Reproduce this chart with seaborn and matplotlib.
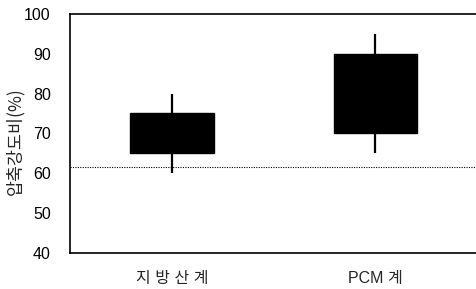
import pandas as pd
import matplotlib
matplotlib.use("Agg")
import matplotlib.pyplot as plt
import seaborn as sns

# values: min, Q1, median, Q3, max per group
groups = ["지 방 산 계", "PCM 계"]
fatty_acid = [60, 65, 70, 75, 80]
pcm = [65, 70, 80, 90, 95]
ref_line = 61.5
y_ticks = [40, 50, 60, 70, 80, 90, 100]

df = pd.DataFrame({
    "group": [groups[0]] * len(fatty_acid) + [groups[1]] * len(pcm),
    "ratio": fatty_acid + pcm,
})

sns.set_style("white")
plt.rcParams["font.family"] = ["Liberation Sans", "Noto Sans CJK KR", "DejaVu Sans"]

fig = plt.figure(figsize=(4.77, 2.89), dpi=100)
ax = fig.add_axes([0.147, 0.125, 0.853, 0.827])

sns.boxplot(data=df, x="group", y="ratio", ax=ax, width=0.41, whis=10,
            showcaps=False, showfliers=False, color="black",
            boxprops=dict(facecolor="black", edgecolor="black"),
            whiskerprops=dict(color="black", linewidth=1.6),
            medianprops=dict(color="black"))

ax.axhline(ref_line, color="black", linestyle=(0, (1, 1.2)), linewidth=0.8, zorder=0)

ax.set_xlim(-0.5, 1.5)
ax.set_ylim(40, 100)
ax.set_yticks(y_ticks)
ax.set_xticks([0.5], minor=True)
ax.tick_params(axis="y", direction="in", length=3, labelsize=11.5, colors="black", pad=14)
ax.tick_params(axis="x", which="major", length=0, labelsize=11.5, pad=13)
ax.tick_params(axis="x", which="minor", direction="in", length=4)
ax.set_xlabel("")
ax.set_ylabel("")
fig.text(0.032, 0.51, "압축강도비(%)", rotation=90, ha="center", va="center",
         fontsize=12.5, family=["Noto Sans CJK KR", "DejaVu Sans"])

for side in ["left", "bottom", "top"]:
    ax.spines[side].set_color("black")
    ax.spines[side].set_linewidth(1.2)
ax.spines["right"].set_visible(False)

fig.savefig("out.png", dpi=100)
